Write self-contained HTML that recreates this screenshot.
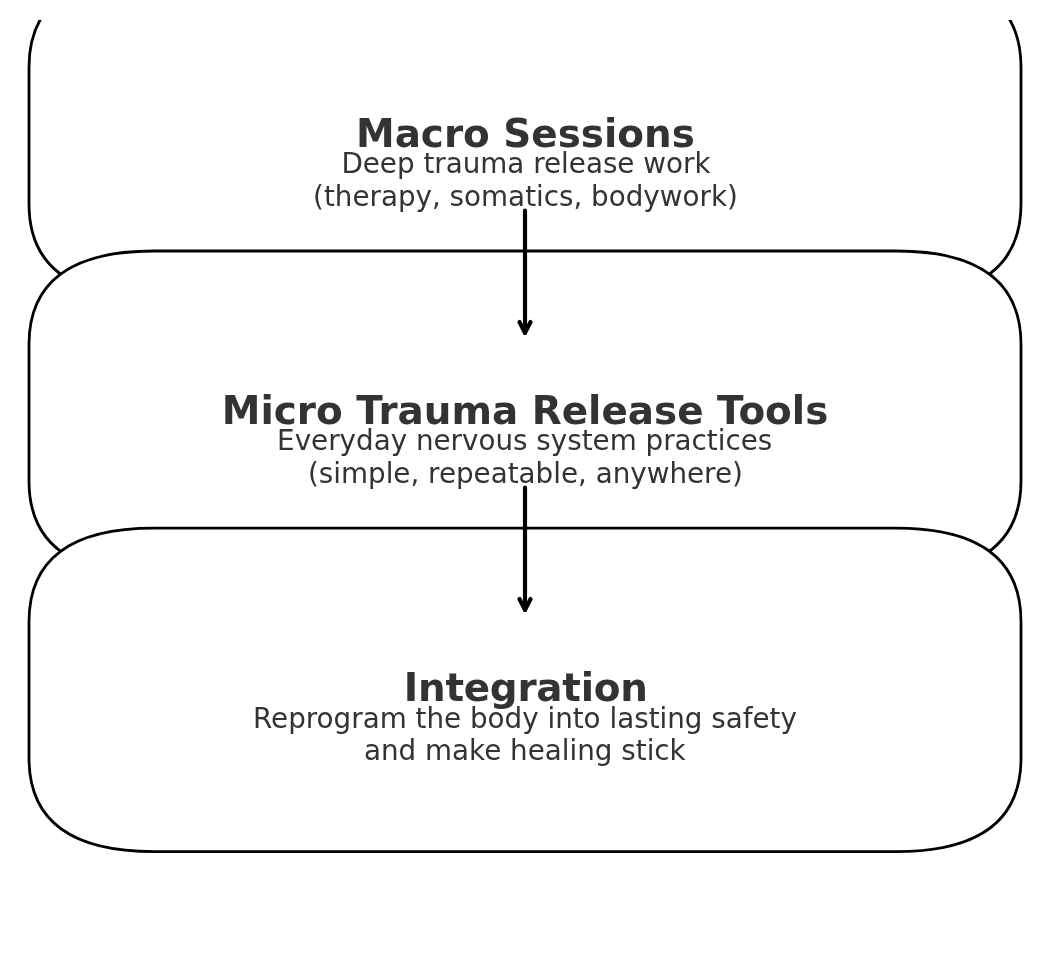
<!DOCTYPE html>
<html lang="en"><head><meta charset="utf-8"><title>Trauma Release Flow</title>
<style>
html,body{margin:0;padding:0;background:#fff;}
body{width:1052px;height:964px;overflow:hidden;}
svg{display:block;will-change:transform;}
.t{font-family:"DejaVu Sans","Liberation Sans",sans-serif;font-weight:bold;font-size:38.89px;fill:#333333;text-anchor:middle;}
.s{font-family:"DejaVu Sans","Liberation Sans",sans-serif;font-weight:normal;font-size:27.78px;fill:#333333;text-anchor:middle;}
</style></head><body>
<svg width="1052" height="964" viewBox="0 0 1052 964">
<defs><clipPath id="ax"><rect x="0" y="20" width="1052" height="944"/></clipPath></defs>
<rect width="1052" height="964" fill="#ffffff"/>
<g clip-path="url(#ax)" fill="#ffffff" stroke="#000000" stroke-width="2.78" stroke-linejoin="miter">
<path d="M154.00,297.20 L896.00,297.20 Q1021.00,297.20 1021.00,203.70 L1021.00,67.30 Q1021.00,-26.20 896.00,-26.20 L154.00,-26.20 Q29.00,-26.20 29.00,67.30 L29.00,203.70 Q29.00,297.20 154.00,297.20 Z"/>
<path d="M154.00,574.40 L896.00,574.40 Q1021.00,574.40 1021.00,480.90 L1021.00,344.50 Q1021.00,251.00 896.00,251.00 L154.00,251.00 Q29.00,251.00 29.00,344.50 L29.00,480.90 Q29.00,574.40 154.00,574.40 Z"/>
<path d="M154.00,851.60 L896.00,851.60 Q1021.00,851.60 1021.00,758.10 L1021.00,621.70 Q1021.00,528.20 896.00,528.20 L154.00,528.20 Q29.00,528.20 29.00,621.70 L29.00,758.10 Q29.00,851.60 154.00,851.60 Z"/>
</g>
<text class="t" x="525.4" y="146.6">Macro Sessions</text>
<text class="s" x="525.95" y="172.6">Deep trauma release work</text>
<text class="s" x="525.45" y="206.0">(therapy, somatics, bodywork)</text>
<text class="t" x="525.0" y="423.6">Micro Trauma Release Tools</text>
<text class="s" x="524.7" y="450.4">Everyday nervous system practices</text>
<text class="s" x="525.4" y="483.0">(simple, repeatable, anywhere)</text>
<text class="t" x="525.7" y="700.6" style="letter-spacing:-0.26px">Integration</text>
<text class="s" x="525.0" y="727.5">Reprogram the body into lasting safety</text>
<text class="s" x="524.85" y="760.0">and make healing stick</text>
<g fill="none" stroke="#000000" stroke-width="4.17" stroke-linecap="round" stroke-linejoin="round">
<path d="M525.0,210.69 L525.0,332.92" /><path d="M519.44,322.02 L525.0,332.92 L530.56,322.02" />
<path d="M525.0,487.69 L525.0,609.91" /><path d="M519.44,599.01 L525.0,609.91 L530.56,599.01" />
</g></svg></body></html>
